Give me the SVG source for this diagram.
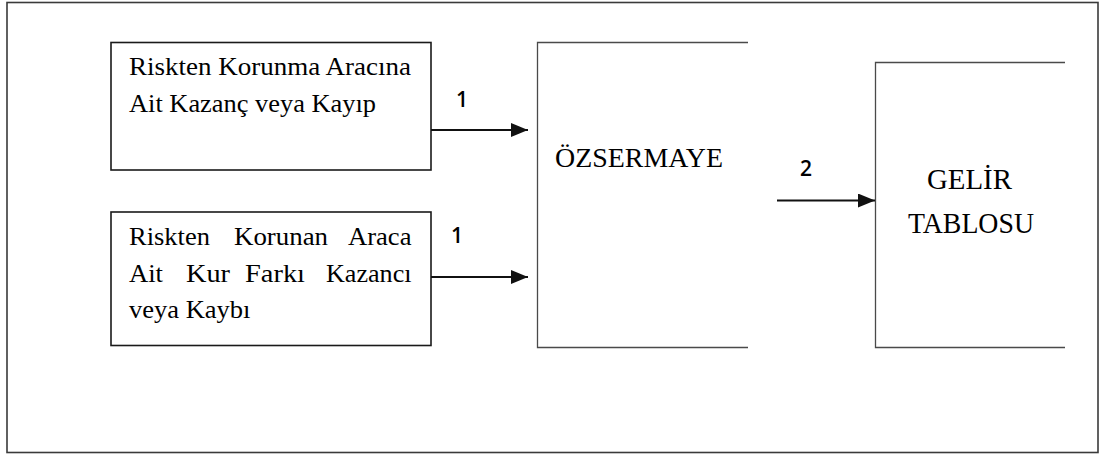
<svg xmlns="http://www.w3.org/2000/svg" width="1106" height="455" viewBox="0 0 1106 455">
  <style>
    .frame { fill: #ffffff; stroke: #3a3a3a; stroke-width: 1.6; }
    .box { fill: #ffffff; stroke: #1a1a1a; stroke-width: 1.6; }
    .open { fill: none; stroke: #4a4a4a; stroke-width: 1.3; }
    .conn { stroke: #111111; stroke-width: 1.8; fill: none; marker-end: url(#head); }
  </style>
  <defs>
    <marker id="head" viewBox="0 0 17 14" refX="17" refY="7" markerWidth="17" markerHeight="14" markerUnits="userSpaceOnUse" orient="auto">
      <path d="M0,0 L17,7 L0,14 Z" fill="#111111"/>
    </marker>
  </defs>

  <!-- outer frame -->
  <rect class="frame" x="7" y="2.5" width="1091" height="450"/>

  <!-- source: hedging instrument gain/loss -->
  <g id="node-instrument" font-family="'Liberation Serif', 'Times New Roman', serif" font-size="25.5" fill="#000000">
    <rect class="box" x="111" y="42.5" width="320" height="127.5"/>
    <text x="129" y="75" textLength="282" lengthAdjust="spacingAndGlyphs">Riskten Korunma Aracına</text>
    <text x="129" y="111.5" textLength="247" lengthAdjust="spacingAndGlyphs">Ait Kazanç veya Kayıp</text>
  </g>

  <!-- source: hedged item FX gain/loss (justified text) -->
  <g id="node-hedged-item" font-family="'Liberation Serif', 'Times New Roman', serif" font-size="25.5" fill="#000000">
    <rect class="box" x="111" y="212" width="320" height="133.5"/>
    <text y="245"><tspan x="129" textLength="81" lengthAdjust="spacingAndGlyphs">Riskten</tspan><tspan x="234" textLength="94" lengthAdjust="spacingAndGlyphs">Korunan</tspan><tspan x="348" textLength="63.5" lengthAdjust="spacingAndGlyphs">Araca</tspan></text>
    <text y="281.5"><tspan x="129" textLength="34" lengthAdjust="spacingAndGlyphs">Ait</tspan><tspan x="186" textLength="44" lengthAdjust="spacingAndGlyphs">Kur</tspan><tspan x="245" textLength="60" lengthAdjust="spacingAndGlyphs">Farkı</tspan><tspan x="326" textLength="85.5" lengthAdjust="spacingAndGlyphs">Kazancı</tspan></text>
    <text x="129" y="318" textLength="121.5" lengthAdjust="spacingAndGlyphs">veya Kaybı</text>
  </g>

  <!-- equity (right side open) -->
  <g id="node-equity" font-family="'Liberation Serif', 'Times New Roman', serif" font-size="27.5" fill="#000000">
    <path class="open" d="M748,42.5 H537.5 V347.5 H748"/>
    <text x="555" y="166.7" textLength="168" lengthAdjust="spacingAndGlyphs">ÖZSERMAYE</text>
  </g>

  <!-- income statement (right side open) -->
  <g id="node-income" font-family="'Liberation Serif', 'Times New Roman', serif" font-size="30" fill="#000000">
    <path class="open" d="M1065,62.5 H875.5 V347.5 H1065"/>
    <text x="927" y="188.5" textLength="85" lengthAdjust="spacingAndGlyphs">GELİR</text>
    <text x="908" y="232.7" textLength="126" lengthAdjust="spacingAndGlyphs">TABLOSU</text>
  </g>

  <!-- connectors -->
  <g id="connectors">
    <line class="conn" x1="431" y1="130" x2="528" y2="130"/>
    <line class="conn" x1="431" y1="277" x2="528" y2="277"/>
    <line class="conn" x1="777" y1="200.5" x2="875" y2="200.5"/>
    <g font-family="'Open Sans', 'Liberation Sans', sans-serif" font-size="21" font-weight="600" fill="#000000">
      <text x="456" y="107">1</text>
      <text x="451" y="243">1</text>
      <text x="800" y="176">2</text>
    </g>
  </g>
</svg>
